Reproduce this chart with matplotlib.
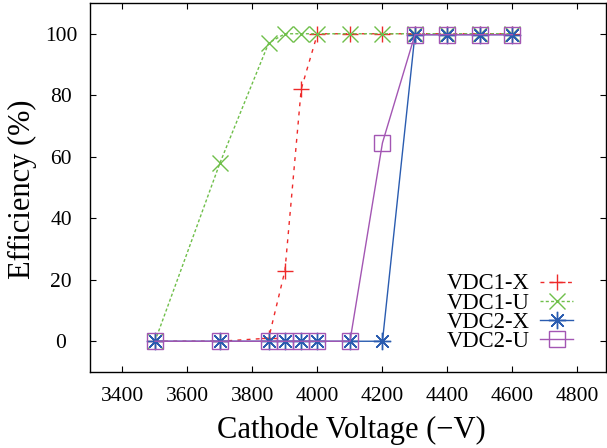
import matplotlib
matplotlib.use("Agg")
import matplotlib.pyplot as plt

# ---- data ----
voltage = [3500, 3700, 3850, 3900, 3950, 4000, 4100, 4200, 4300, 4400, 4500, 4600]
vdc1_x = [0, 0, 1, 23, 82, 100, 100, 100, 100, 100, 100, 100]
vdc1_u = [0, 58, 97, 100, 100, 100, 100, 100, 100, 100, 100, 100]
vdc2_x = [0, 0, 0, 0, 0, 0, 0, 0, 99.7, 99.7, 99.7, 99.7]
vdc2_u = [0, 0, 0, 0, 0, 0, 0, 64.5, 99.7, 99.7, 99.7, 99.7]
labels = ["VDC1-X", "VDC1-U", "VDC2-X", "VDC2-U"]
xticks = [3400, 3600, 3800, 4000, 4200, 4400, 4600, 4800]
yticks = [0, 20, 40, 60, 80, 100]

plt.rcParams['font.family'] = ['Liberation Serif', 'DejaVu Serif']

fig = plt.figure(figsize=(6.07, 4.48), dpi=100)
W, H = 607, 448
ax = fig.add_axes([90 / W, (H - 372) / H, 516 / W, 369 / H])

red = '#ee2a2a'
green = '#6fbf4a'
blue = '#2a5cb0'
purple = '#a356b3'

ax.plot(voltage, vdc1_x, color=red, lw=1.0, linestyle=(0, (2.8, 3.8)),
        marker='+', ms=11.5, mew=1.0, label=labels[0])
ax.plot(voltage, vdc1_u, color=green, lw=1.0, linestyle=(0, (2.2, 1.6)),
        marker='x', ms=11.5, mew=1.0, label=labels[1])
ax.plot(voltage, vdc2_x, color=blue, lw=1.0, linestyle='-',
        marker=(8, 2, 0), ms=12.5, mew=1.0, label=labels[2])
ax.plot(voltage, vdc2_u, color=purple, lw=1.0, linestyle='-',
        marker='s', ms=11.5, mew=1.0, mfc='none', label=labels[3])

ax.set_xlim(3300, 4888)
ax.set_ylim(-10, 110)
ax.set_xticks(xticks)
ax.set_yticks(yticks)

for sp in ax.spines.values():
    sp.set_linewidth(1.0)

ax.tick_params(axis='both', direction='in', length=4.5, width=0.8,
               top=True, right=True, labelsize=15.5)
ax.tick_params(axis='x', pad=10.5)
ax.tick_params(axis='y', pad=20.9)
for t in ax.get_yticklabels():
    t.set_ha('center')

ax.set_xlabel("Cathode Voltage (\u2212V)", fontsize=22, va='baseline')
ax.xaxis.set_label_coords((351 - 90) / 516, (372 - 438) / 369)
ax.set_ylabel("Efficiency (%)", fontsize=22, va='center')
ax.yaxis.set_label_coords((22.6 - 90) / 516, (372 - 189.5) / 369)

leg = ax.legend(loc='lower right', bbox_to_anchor=((573 - 90) / 516, (372 - 352) / 369),
                frameon=False, markerfirst=False, fontsize=16.3, numpoints=1,
                handlelength=1.45, handletextpad=0.45, labelspacing=-0.08,
                borderpad=0, borderaxespad=0)

fig.savefig("out.png", dpi=100)
